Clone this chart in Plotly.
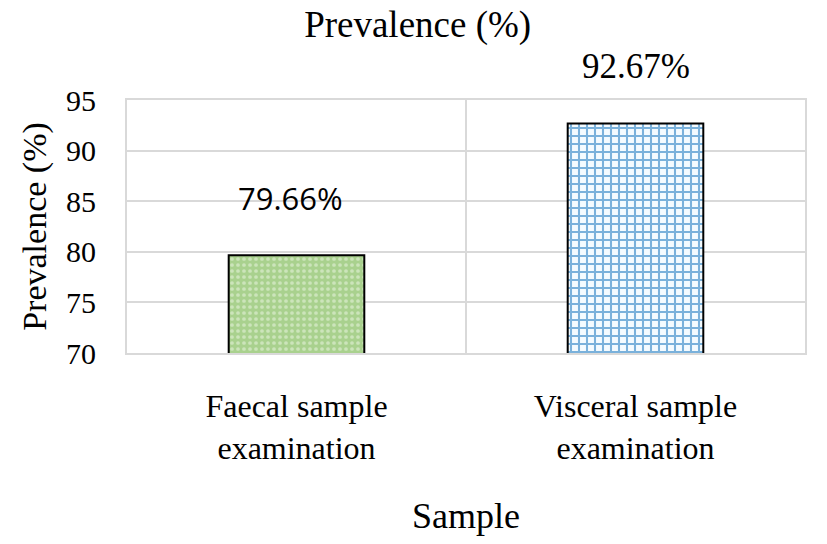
import plotly.graph_objects as go

categories = ["Faecal sample<br>examination", "Visceral sample<br>examination"]
prevalence = [79.66, 92.67]
value_labels = ["79.66%", "92.67%"]
label_fonts = ["Open Sans", "Liberation Serif"]
label_sizes = [31, 35]
label_xshift = [-6, 0]
y_ticks = [70, 75, 80, 85, 90, 95]

SERIF = "Liberation Serif"

fig = go.Figure()
fig.add_trace(go.Bar(
    x=[categories[0]], y=[prevalence[0]], width=0.4,
    marker=dict(color="#a9d18e", line=dict(color="black", width=2),
                pattern=dict(shape=".", fgcolor="#f0f8e8", bgcolor="#a9d18e", size=6, solidity=0.3)),
    showlegend=False,
))
fig.add_trace(go.Bar(
    x=[categories[1]], y=[prevalence[1]], width=0.4,
    marker=dict(color="#ffffff", line=dict(color="black", width=2),
                pattern=dict(shape="+", fgcolor="#0068b8", bgcolor="#f4fbff", size=8, solidity=0.45)),
    showlegend=False,
))

for cat, val, lab, fnt, sz, xs in zip(categories, prevalence, value_labels, label_fonts, label_sizes, label_xshift):
    fig.add_annotation(x=cat, y=val, text=lab, showarrow=False, yshift=57, xshift=xs,
                       yanchor="middle",
                       font=dict(family=fnt, size=sz, color="black"))

fig.update_layout(
    width=827, height=544,
    margin=dict(l=127, r=22, t=100, b=191),
    paper_bgcolor="white", plot_bgcolor="white",
    title=dict(text="Prevalence (%)", x=0.505, xanchor="center", y=0.955, yanchor="middle",
               font=dict(family=SERIF, size=37, color="black")),
    font=dict(family=SERIF, color="black"),
)
fig.update_xaxes(
    type="category", tickson="boundaries", showgrid=True, gridcolor="#d9d9d9", gridwidth=1.5,
    showline=True, linecolor="#d9d9d9", linewidth=2, mirror=True, ticks="",
    ticklabelstandoff=24,
    tickfont=dict(family=SERIF, size=32, color="black"),
    title=dict(text="Sample", font=dict(family=SERIF, size=36, color="black"), standoff=38),
)
fig.update_yaxes(
    range=[70, 95], tickvals=y_ticks, showgrid=True, gridcolor="#d9d9d9", gridwidth=1.5,
    showline=True, linecolor="#d9d9d9", linewidth=2, mirror=True, ticks="",
    ticklabelstandoff=23, zeroline=False,
    tickfont=dict(family=SERIF, size=30, color="black"),
    title=dict(text="Prevalence (%)", font=dict(family=SERIF, size=34, color="black"), standoff=9),
)

fig.write_html("out.html", config={"displayModeBar": False},
               post_script="document.body.style.margin='0';")
